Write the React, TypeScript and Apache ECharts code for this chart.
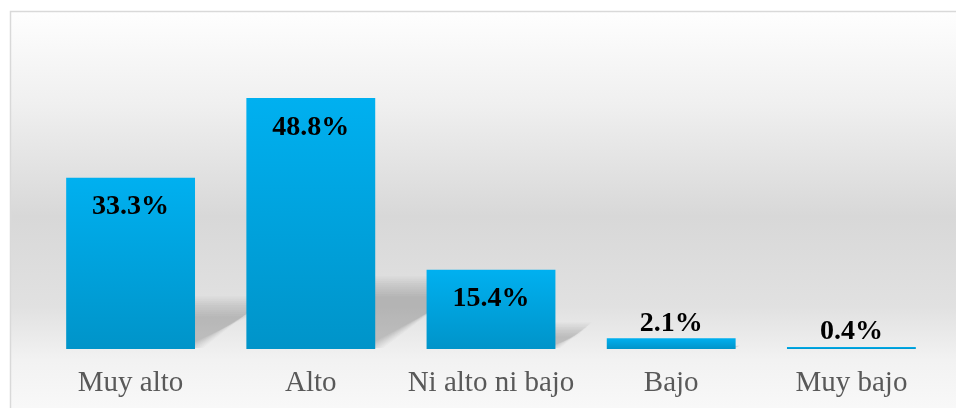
import React, { useEffect, useRef } from "react";
import * as echarts from "echarts";

const categories = ["Muy alto", "Alto", "Ni alto ni bajo", "Bajo", "Muy bajo"];
const values = [33.3, 48.8, 15.4, 2.1, 0.4];
const valueLabels = ["33.3%", "48.8%", "15.4%", "2.1%", "0.4%"];
const insideThreshold = 10;

const BAR_RATIO = 0.715;

export default function App() {
  const ref = useRef<HTMLDivElement>(null);
  useEffect(() => {
    if (!ref.current) return;
    const chart = echarts.init(ref.current, null, { renderer: "svg" });
    const serif = "'Liberation Serif', 'Times New Roman', serif";
    chart.setOption({
      animation: false,
      graphic: [
        {
          type: "rect",
          z: -10,
          silent: true,
          shape: { x: 10.5, y: 11.5, width: 960, height: 410 },
          style: {
            fill: new echarts.graphic.LinearGradient(0, 0, 0, 1, [
              { offset: 0, color: "#fefefe" },
              { offset: 0.22, color: "#f0f0f0" },
              { offset: 0.5, color: "#d8d8d8" },
              { offset: 0.72, color: "#e1e1e1" },
              { offset: 0.85, color: "#f2f2f2" },
              { offset: 1, color: "#fafafa" },
            ]),
            stroke: "#d9d9d9",
            lineWidth: 1.5,
          },
        },
      ],
      grid: { left: 40.5, right: 14.5, top: 40.4, bottom: 59, containLabel: false },
      xAxis: {
        type: "category",
        data: categories,
        axisLine: { show: false },
        axisTick: { show: false },
        axisLabel: {
          interval: 0,
          color: "#595959",
          fontFamily: serif,
          fontSize: 29,
          margin: 17,
        },
      },
      yAxis: {
        type: "value",
        min: 0,
        max: 60,
        show: false,
        splitLine: { show: false },
      },
      series: [
        {
          type: "custom",
          z: 1,
          silent: true,
          data: values.map((v, i) => [i, v]),
          renderItem: (params: any, api: any) => {
            const idx = api.value(0);
            const val = api.value(1);
            const base = api.coord([idx, 0]);
            const top = api.coord([idx, val]);
            const w = api.size([1, 0])[0] * BAR_RATIO;
            const x0 = base[0] - w / 2;
            const x1 = base[0] + w / 2;
            const h = base[1] - top[1];
            const hk = h * 0.25;
            const d = hk * 1.5;
            const blur = Math.min(10, hk * 0.35);
            const layers = 10;
            const children: any[] = [];
            for (let i = 0; i < layers; i++) {
              const s = -blur + (2 * blur * i) / (layers - 1);
              children.push({
                type: "polygon",
                shape: {
                  points: [
                    [x1 - 2 + s, base[1] - 1],
                    [x1 + d + s, base[1] - hk - s],
                    [x0 + d, base[1] - hk - s],
                    [x0, base[1] - 1],
                  ],
                },
                style: { fill: "rgba(0,0,0,0.019)" },
              });
            }
            return { type: "group", children };
          },
        },
        {
          type: "bar",
          z: 2,
          barWidth: BAR_RATIO * 100 + "%",
          data: values.map((v) => ({
            value: v,
            label: {
              position: v > insideThreshold ? "insideTop" : "top",
              distance: v > insideThreshold ? 13 : 3,
            },
          })),
          itemStyle: {
            color: new echarts.graphic.LinearGradient(0, 0, 0, 1, [
              { offset: 0, color: "#00b0f0" },
              { offset: 1, color: "#0094c9" },
            ]),
          },
          label: {
            show: true,
            color: "#000000",
            fontFamily: serif,
            fontWeight: "bold",
            fontSize: 28,
            formatter: (p: any) => valueLabels[p.dataIndex],
          },
        },
      ],
    });
    return () => chart.dispose();
  }, []);
  return (
    <div
      ref={ref}
      style={{ position: "fixed", left: 0, top: 0, width: 956, height: 408 }}
    />
  );
}
